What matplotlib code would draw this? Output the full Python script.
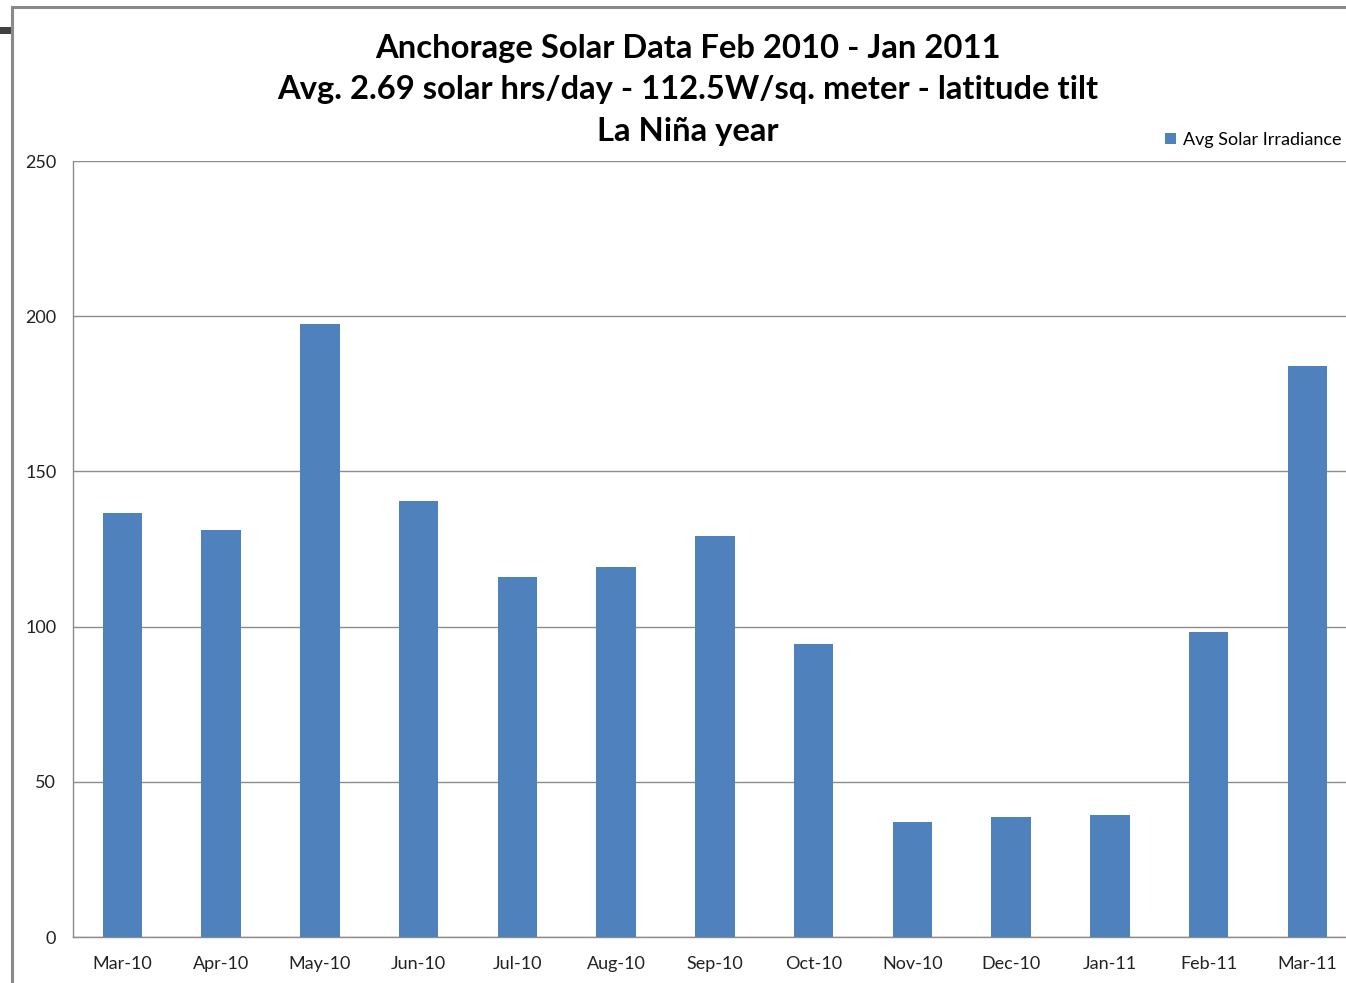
import matplotlib
matplotlib.use("Agg")
import matplotlib.pyplot as plt
from matplotlib.patches import Rectangle
from matplotlib.lines import Line2D
import numpy as np

categories = ["Mar-10", "Apr-10", "May-10", "Jun-10", "Jul-10", "Aug-10", "Sep-10",
              "Oct-10", "Nov-10", "Dec-10", "Jan-11", "Feb-11", "Mar-11"]
values = [136.6, 131.1, 197.5, 140.5, 116.0, 119.2, 129.2, 94.4, 37.0, 38.7, 39.3, 98.3, 184.0]
yticks = [0, 50, 100, 150, 200, 250]
title = "Anchorage Solar Data Feb 2010 - Jan 2011\nAvg. 2.69 solar hrs/day - 112.5W/sq. meter - latitude tilt\nLa Niña year"
series_name = "Avg Solar Irradiance"

W, H = 1346, 983
fig = plt.figure(figsize=(W / 100, H / 100), dpi=100)
fig.patch.set_facecolor("white")

font = ["Lato", "DejaVu Sans"]
bar_color = "#4F81BD"
grid_color = "#8c8c8c"

# outer chart border (cropped screenshot)
fig.add_artist(Line2D([12 / W, 12 / W], [0, 1 - 7 / H], color="#8a8a8a", lw=2.2,
                      transform=fig.transFigure))
fig.add_artist(Line2D([12 / W, 1], [1 - 7 / H, 1 - 7 / H], color="#8a8a8a", lw=2.2,
                      transform=fig.transFigure))
fig.add_artist(Rectangle((0, 1 - 34 / H), 11 / W, 7 / H, color="#404040",
                         transform=fig.transFigure, lw=0))

left, right = 73, 1356.75
bottom, top = 937, 161
ax = fig.add_axes([left / W, 1 - bottom / H, (right - left) / W, (bottom - top) / H])

x = np.arange(len(categories))
ax.bar(x, values, width=0.4, color=bar_color, zorder=3, label=series_name)
ax.set_xlim(-0.5, len(categories) - 0.5)
ax.set_ylim(0, 250)
ax.set_yticks(yticks)
ax.set_yticklabels([str(v) for v in yticks], family=font, fontsize=13, color="#222222")
ax.set_xticks(x)
ax.set_xticklabels(categories, family=font, fontsize=13, color="#222222")
ax.tick_params(axis="both", length=0)
ax.tick_params(axis="x", pad=14)
ax.tick_params(axis="y", pad=12)
ax.grid(axis="y", color=grid_color, lw=1.0, zorder=0)
for s in ["top", "right"]:
    ax.spines[s].set_visible(False)
ax.spines["left"].set_color(grid_color)
ax.spines["bottom"].set_color(grid_color)
ax.spines["left"].set_linewidth(1.0)
ax.spines["bottom"].set_linewidth(1.0)

fig.text(688 / W, 1 - 90 / H, title, ha="center", va="center", family=font,
         fontsize=23.6, fontweight="bold", linespacing=1.54)

leg = fig.legend(loc="center left", bbox_to_anchor=(1165 / W, 1 - 140 / H), frameon=False,
                 prop={"family": font, "size": 13.0}, handlelength=0.6, handleheight=0.6,
                 handletextpad=0.4, borderpad=0, borderaxespad=0)

fig.savefig("out.png", dpi=100, facecolor="white")
